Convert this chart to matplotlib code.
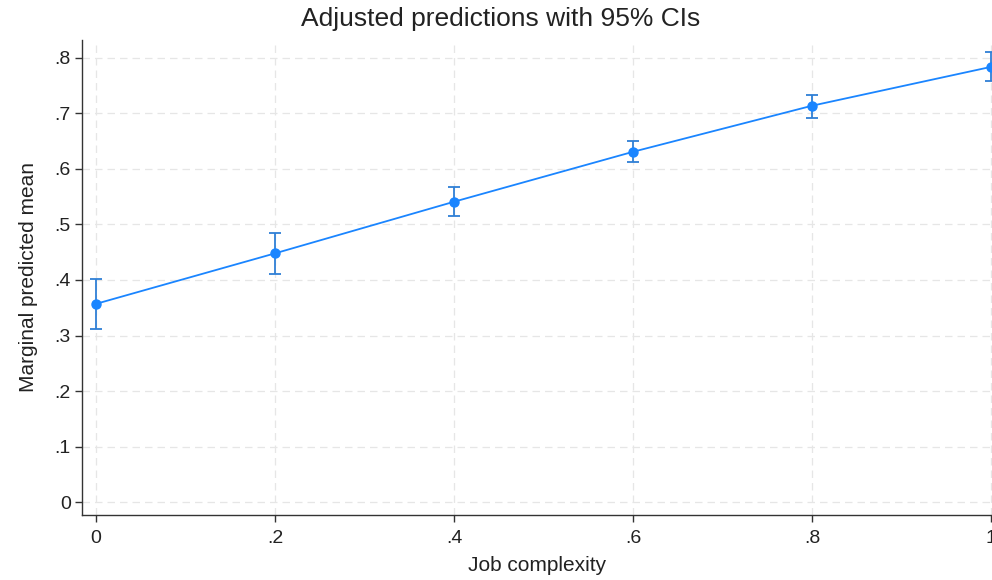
import matplotlib
matplotlib.use('Agg')
import matplotlib.pyplot as plt
import numpy as np

plt.rcParams['font.family'] = ['Liberation Sans', 'DejaVu Sans']

# job complexity levels and margins
complexity = [0, 0.2, 0.4, 0.6, 0.8, 1.0]
pred_mean = [0.357, 0.448, 0.541, 0.631, 0.714, 0.784]
ci_low = [0.312, 0.411, 0.515, 0.612, 0.692, 0.759]
ci_high = [0.401, 0.484, 0.567, 0.650, 0.734, 0.810]

xticks = [0, 0.2, 0.4, 0.6, 0.8, 1.0]
xtick_labels = ['0', '.2', '.4', '.6', '.8', '1']
yticks = [0, 0.1, 0.2, 0.3, 0.4, 0.5, 0.6, 0.7, 0.8]
ytick_labels = ['0', '.1', '.2', '.3', '.4', '.5', '.6', '.7', '.8']

col = '#1a85ff'

fig = plt.figure(figsize=(9.92, 5.8), dpi=100)
ax = fig.add_axes([82/992, 65/580, 910/992, 475/580])

x = np.array(complexity)
y = np.array(pred_mean)
yerr = [y - np.array(ci_low), np.array(ci_high) - y]

ax.plot(x, y, color=col, lw=1.3, zorder=3)
ax.errorbar(x, y, yerr=yerr, fmt='o', color=col, ecolor='#2f7fd6', elinewidth=1.3,
            capsize=4, capthick=1.3, markersize=6.5, zorder=4, clip_on=False)

ax.set_xlim(-0.0156, 1.001)
ax.set_ylim(-0.0234, 0.8324)

ax.set_xticks(xticks)
ax.set_xticklabels(xtick_labels)
ax.set_yticks(yticks)
ax.set_yticklabels(ytick_labels)

ax.grid(True, color='#e6e6e6', linestyle=(0, (6, 4)), linewidth=0.9)
ax.set_axisbelow(True)

for s in ['top', 'right']:
    ax.spines[s].set_visible(False)
for s in ['left', 'bottom']:
    ax.spines[s].set_color('#333333')
    ax.spines[s].set_linewidth(1.0)

ax.tick_params(axis='both', direction='out', length=5, width=1.0, color='#333333',
               labelsize=14, labelcolor='#222222')
ax.tick_params(axis='x', pad=6)
ax.tick_params(axis='y', pad=3)

ax.set_title('Adjusted predictions with 95% CIs', fontsize=19, color='#222222',
             x=(501 - 82) / 910, pad=10)
ax.set_xlabel('Job complexity', fontsize=15, color='#222222', labelpad=6)
ax.set_ylabel('Marginal predicted mean', fontsize=15, color='#222222', labelpad=12)

fig.savefig('out.png', dpi=100)
